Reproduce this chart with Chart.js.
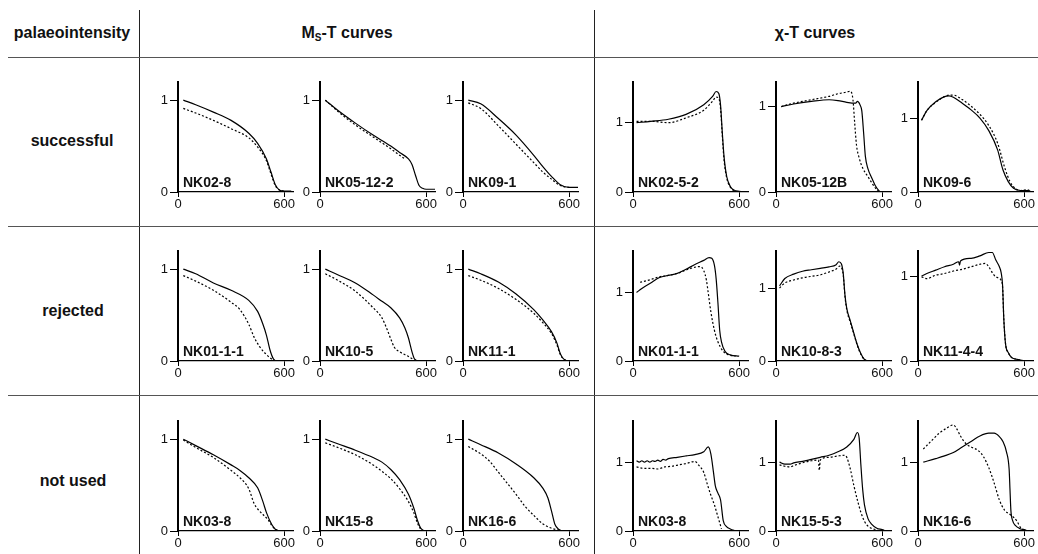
<!DOCTYPE html>
<html>
<head>
<meta charset="utf-8">
<script src="https://cdn.jsdelivr.net/npm/chart.js@4.4.1/dist/chart.umd.min.js"></script>
<style>
  body { margin: 0; background: #fff; }
  #page { position: relative; width: 1038px; height: 554px; overflow: hidden; font-family: "Liberation Sans", Arial, Helvetica, sans-serif; color: #111; }
  .hl { position: absolute; height: 1px; background: #555; }
  .vl { position: absolute; width: 1px; background: #222; }
  .head { position: absolute; font-weight: bold; font-size: 16px; white-space: nowrap; transform: translate(-50%, -50%); }
  .head sub { font-size: 10px; vertical-align: -3px; }
  .lab { position: absolute; font-weight: bold; font-size: 14px; line-height: 14px; white-space: nowrap; }
  canvas { position: absolute; }
</style>
</head>
<body>
<div id="page">
  <div class="vl" style="left:139px;top:10px;height:544px"></div>
  <div class="vl" style="left:594px;top:10px;height:544px"></div>
  <div class="hl" style="left:8px;top:57px;width:1030px"></div>
  <div class="hl" style="left:8px;top:226px;width:1030px"></div>
  <div class="hl" style="left:8px;top:395px;width:1030px"></div>
  <div class="head" style="left:72px;top:33px">palaeointensity</div>
  <div class="head" style="left:347px;top:33px">M<sub>S</sub>-T curves</div>
  <div class="head" style="left:815px;top:33px">χ-T curves</div>
  <div class="head" style="left:72px;top:141px">successful</div>
  <div class="head" style="left:73px;top:311px">rejected</div>
  <div class="head" style="left:73px;top:481px">not used</div>
</div>
<script>
// tick labels
const xTicks = [0, 600];
const yTicks = [0, 1];

// sample names per row (successful / rejected / not used)
const msNames = [['NK02-8', 'NK05-12-2', 'NK09-1'], ['NK01-1-1', 'NK10-5', 'NK11-1'], ['NK03-8', 'NK15-8', 'NK16-6']];
const chiNames = [['NK02-5-2', 'NK05-12B', 'NK09-6'], ['NK01-1-1', 'NK10-8-3', 'NK11-4-4'], ['NK03-8', 'NK15-5-3', 'NK16-6']];
const msYMax = [[1.2, 1.2, 1.2], [1.2, 1.2, 1.2], [1.2, 1.2, 1.2]];
const chiYMax = [[1.59, 1.29, 1.49], [1.61, 1.51, 1.31], [1.6, 1.6, 1.6]];

// ---- Ms-T curves (solid = heating, dotted = cooling) ----
const ms02_8_tS = [30, 100, 200, 300, 400, 450, 500, 525, 550, 575, 600, 640];
const ms02_8_s  = [1.0, 0.95, 0.87, 0.78, 0.64, 0.53, 0.36, 0.22, 0.08, 0.02, 0.01, 0.01];
const ms02_8_tD = [30, 100, 200, 300, 400, 450, 500, 525, 550, 575, 600];
const ms02_8_d  = [0.91, 0.86, 0.78, 0.69, 0.59, 0.49, 0.34, 0.20, 0.07, 0.02, 0.01];

const ms05_12_2_tS = [30, 100, 200, 300, 400, 450, 500, 520, 540, 560, 580, 600, 650];
const ms05_12_2_s  = [1.0, 0.89, 0.75, 0.62, 0.50, 0.43, 0.36, 0.30, 0.18, 0.07, 0.04, 0.03, 0.03];
const ms05_12_2_tD = [30, 100, 200, 300, 400, 450, 480];
const ms05_12_2_d  = [1.0, 0.88, 0.73, 0.60, 0.47, 0.40, 0.36];

const ms09_1_tS = [30, 100, 200, 300, 400, 450, 500, 550, 600, 650];
const ms09_1_s  = [1.0, 0.96, 0.80, 0.62, 0.40, 0.28, 0.17, 0.08, 0.05, 0.05];
const ms09_1_tD = [30, 100, 200, 300, 400, 450, 500, 550, 600];
const ms09_1_d  = [0.97, 0.91, 0.72, 0.52, 0.32, 0.22, 0.14, 0.07, 0.05];

const ms01_1_1_tS = [30, 100, 200, 300, 400, 450, 480, 500, 520, 540, 560, 650];
const ms01_1_1_s  = [1.0, 0.95, 0.85, 0.77, 0.66, 0.54, 0.40, 0.28, 0.12, 0.02, 0.0, 0.0];
const ms01_1_1_tD = [30, 100, 200, 300, 350, 400, 430, 460, 500, 530, 550];
const ms01_1_1_d  = [0.93, 0.87, 0.77, 0.64, 0.56, 0.40, 0.26, 0.16, 0.07, 0.02, 0.0];

const ms10_5_tS = [30, 100, 200, 300, 350, 400, 450, 480, 500, 520, 535, 560, 650];
const ms10_5_s  = [1.0, 0.94, 0.85, 0.72, 0.65, 0.58, 0.47, 0.36, 0.25, 0.10, 0.02, 0.0, 0.0];
const ms10_5_tD = [30, 100, 200, 300, 350, 380, 400, 420, 450, 500, 540];
const ms10_5_d  = [0.95, 0.88, 0.76, 0.58, 0.47, 0.34, 0.24, 0.15, 0.10, 0.05, 0.0];

const ms11_1_tS = [30, 100, 200, 300, 400, 450, 500, 530, 550, 570, 600, 650];
const ms11_1_s  = [1.0, 0.95, 0.86, 0.73, 0.56, 0.45, 0.32, 0.20, 0.08, 0.02, 0.0, 0.0];
const ms11_1_tD = [30, 100, 200, 300, 400, 450, 500, 530, 550, 570, 600];
const ms11_1_d  = [0.93, 0.88, 0.79, 0.67, 0.52, 0.42, 0.30, 0.18, 0.07, 0.02, 0.0];

const ms03_8_tS = [30, 100, 200, 300, 350, 400, 450, 480, 500, 530, 550, 580, 650];
const ms03_8_s  = [1.0, 0.93, 0.83, 0.72, 0.66, 0.58, 0.47, 0.32, 0.20, 0.07, 0.02, 0.0, 0.0];
const ms03_8_tD = [30, 100, 200, 300, 350, 400, 430, 450, 480, 510, 530, 550, 580];
const ms03_8_d  = [0.99, 0.91, 0.80, 0.66, 0.58, 0.46, 0.30, 0.24, 0.18, 0.12, 0.06, 0.02, 0.0];

const ms15_8_tS = [30, 100, 200, 300, 350, 400, 450, 500, 530, 550, 570, 600, 650];
const ms15_8_s  = [1.0, 0.95, 0.88, 0.80, 0.75, 0.67, 0.56, 0.40, 0.25, 0.12, 0.03, 0.0, 0.0];
const ms15_8_tD = [30, 100, 200, 300, 350, 400, 450, 500, 530, 550, 570, 600];
const ms15_8_d  = [0.96, 0.91, 0.83, 0.72, 0.65, 0.57, 0.46, 0.32, 0.20, 0.09, 0.02, 0.0];

const ms16_6_tS = [30, 100, 200, 300, 400, 450, 480, 500, 520, 540, 570, 650];
const ms16_6_s  = [1.0, 0.94, 0.85, 0.73, 0.58, 0.47, 0.36, 0.22, 0.07, 0.02, 0.0, 0.0];
const ms16_6_tD = [30, 100, 150, 200, 250, 300, 350, 400, 450, 500, 540, 570];
const ms16_6_d  = [0.92, 0.84, 0.76, 0.64, 0.52, 0.40, 0.27, 0.17, 0.08, 0.03, 0.01, 0.0];

// ---- chi-T curves (solid = heating, dotted = cooling) ----
const chi02_5_2_tS = [20, 100, 200, 300, 400, 450, 470, 485, 495, 505, 515, 530, 550, 570, 600, 640];
const chi02_5_2_s  = [1.0, 1.02, 1.05, 1.12, 1.26, 1.38, 1.45, 1.42, 1.25, 0.85, 0.50, 0.22, 0.08, 0.03, 0.01, 0.0];
const chi02_5_2_tD = [20, 100, 200, 300, 400, 450, 470, 485, 495, 505, 515, 530, 550, 570, 600];
const chi02_5_2_d  = [1.02, 1.02, 1.0, 1.07, 1.18, 1.31, 1.37, 1.35, 1.20, 0.80, 0.45, 0.20, 0.07, 0.02, 0.0];

const chi05_12B_tS = [30, 100, 200, 300, 350, 400, 450, 460, 475, 485, 495, 505, 520, 540, 560, 580, 590];
const chi05_12B_s  = [1.0, 1.03, 1.06, 1.08, 1.07, 1.05, 1.04, 1.06, 1.02, 0.95, 0.70, 0.42, 0.27, 0.17, 0.08, 0.02, 0.0];
const chi05_12B_tD = [30, 100, 200, 300, 350, 400, 420, 435, 445, 455, 470, 490, 520, 550, 580];
const chi05_12B_d  = [1.0, 1.04, 1.08, 1.12, 1.15, 1.17, 1.18, 1.08, 0.80, 0.55, 0.40, 0.28, 0.18, 0.08, 0.0];

const chi09_6_tS = [20, 50, 100, 150, 175, 200, 250, 300, 350, 400, 450, 480, 510, 540, 580, 620, 640];
const chi09_6_s  = [0.97, 1.10, 1.22, 1.29, 1.30, 1.28, 1.20, 1.11, 1.0, 0.83, 0.57, 0.30, 0.14, 0.05, 0.02, 0.02, 0.0];
const chi09_6_tD = [20, 50, 100, 150, 175, 200, 250, 300, 350, 400, 450, 490, 520, 550, 580, 620, 640];
const chi09_6_d  = [0.97, 1.10, 1.21, 1.29, 1.31, 1.31, 1.25, 1.16, 1.05, 0.90, 0.66, 0.33, 0.14, 0.05, 0.02, 0.03, 0.0];

const chi01_1_1_tS = [20, 50, 100, 150, 200, 250, 300, 350, 400, 430, 445, 460, 470, 480, 490, 500, 520, 550, 600];
const chi01_1_1_s  = [1.0, 1.06, 1.14, 1.22, 1.25, 1.28, 1.34, 1.41, 1.47, 1.51, 1.50, 1.40, 1.20, 0.85, 0.45, 0.28, 0.14, 0.09, 0.07];
const chi01_1_1_tD = [40, 100, 150, 200, 250, 300, 350, 380, 400, 415, 425, 440, 460, 480, 510, 540, 580];
const chi01_1_1_d  = [1.15, 1.19, 1.23, 1.25, 1.28, 1.33, 1.37, 1.38, 1.32, 1.18, 1.0, 0.72, 0.45, 0.28, 0.14, 0.09, 0.07];

const chi10_8_3_tS = [20, 50, 100, 150, 200, 250, 300, 340, 355, 370, 380, 390, 400, 420, 440, 460, 480, 500, 520, 600];
const chi10_8_3_s  = [1.03, 1.13, 1.19, 1.23, 1.25, 1.27, 1.29, 1.32, 1.36, 1.33, 1.20, 0.90, 0.72, 0.55, 0.38, 0.22, 0.10, 0.02, 0.0, 0.0];
const chi10_8_3_tD = [20, 50, 100, 150, 200, 250, 300, 340, 360, 370, 380, 390, 400, 420, 440, 460, 480, 500, 520];
const chi10_8_3_d  = [1.0, 1.07, 1.11, 1.14, 1.16, 1.18, 1.22, 1.26, 1.30, 1.28, 1.18, 0.88, 0.70, 0.53, 0.37, 0.21, 0.09, 0.02, 0.0];

const chi11_4_4_tS = [20, 50, 100, 150, 200, 230, 235, 240, 300, 350, 400, 420, 440, 460, 470, 478, 485, 495, 510, 530, 560, 600];
const chi11_4_4_s  = [1.01, 1.04, 1.08, 1.12, 1.15, 1.18, 1.14, 1.19, 1.22, 1.25, 1.29, 1.29, 1.20, 1.12, 1.05, 0.90, 0.50, 0.20, 0.10, 0.04, 0.02, 0.0];
const chi11_4_4_tD = [20, 50, 100, 150, 200, 250, 300, 350, 380, 400, 420, 440, 470, 478, 485, 495, 510, 530, 560, 600];
const chi11_4_4_d  = [1.0, 0.98, 1.02, 1.04, 1.07, 1.09, 1.12, 1.15, 1.16, 1.12, 1.05, 1.0, 0.96, 0.88, 0.50, 0.20, 0.10, 0.04, 0.02, 0.0];

const chi03_8_tS = [20, 35, 50, 65, 80, 95, 110, 125, 140, 155, 170, 185, 200, 250, 300, 350, 400, 425, 440, 455, 465, 480, 495, 510, 530, 550, 580];
const chi03_8_s  = [1.02, 1.0, 1.02, 1.0, 1.02, 1.0, 1.02, 1.01, 1.03, 1.01, 1.04, 1.03, 1.05, 1.07, 1.09, 1.11, 1.15, 1.22, 1.12, 0.85, 0.66, 0.55, 0.45, 0.15, 0.06, 0.03, 0.0];
const chi03_8_tD = [20, 60, 100, 140, 180, 220, 260, 300, 350, 370, 400, 420, 440, 460, 475, 490, 500];
const chi03_8_d  = [0.93, 0.91, 0.91, 0.90, 0.93, 0.94, 0.96, 0.98, 1.01, 0.96, 0.85, 0.68, 0.52, 0.38, 0.25, 0.12, 0.03];

const chi15_5_3_tS = [20, 50, 80, 100, 150, 200, 250, 300, 350, 400, 440, 460, 470, 480, 490, 500, 520, 540, 570, 600, 620];
const chi15_5_3_s  = [1.0, 0.97, 0.97, 0.99, 1.01, 1.04, 1.07, 1.10, 1.15, 1.22, 1.33, 1.43, 1.35, 0.95, 0.60, 0.38, 0.18, 0.10, 0.04, 0.02, 0.0];
const chi15_5_3_tD = [20, 50, 80, 100, 150, 200, 240, 245, 250, 300, 350, 390, 400, 420, 440, 460, 480, 500, 520, 550, 580, 600];
const chi15_5_3_d  = [0.96, 0.94, 0.93, 0.95, 0.99, 1.02, 1.03, 0.88, 1.03, 1.07, 1.09, 1.10, 1.07, 0.90, 0.66, 0.45, 0.27, 0.14, 0.07, 0.03, 0.01, 0.0];

const chi16_6_tS = [30, 100, 150, 200, 250, 300, 350, 400, 430, 460, 480, 500, 515, 520, 525, 535, 550, 580, 600, 620];
const chi16_6_s  = [1.0, 1.05, 1.09, 1.14, 1.22, 1.30, 1.38, 1.42, 1.42, 1.37, 1.30, 1.15, 0.90, 0.60, 0.30, 0.15, 0.08, 0.03, 0.02, 0.0];
const chi16_6_tD = [30, 80, 120, 160, 200, 215, 240, 270, 300, 340, 370, 400, 430, 460, 490, 520, 540, 560, 580, 600, 620];
const chi16_6_d  = [1.19, 1.32, 1.42, 1.49, 1.54, 1.50, 1.38, 1.27, 1.22, 1.17, 1.08, 0.92, 0.70, 0.45, 0.30, 0.24, 0.20, 0.14, 0.05, 0.02, 0.0];

const msSeries = {
  'NK02-8': [ms02_8_tS, ms02_8_s, ms02_8_tD, ms02_8_d],
  'NK05-12-2': [ms05_12_2_tS, ms05_12_2_s, ms05_12_2_tD, ms05_12_2_d],
  'NK09-1': [ms09_1_tS, ms09_1_s, ms09_1_tD, ms09_1_d],
  'NK01-1-1': [ms01_1_1_tS, ms01_1_1_s, ms01_1_1_tD, ms01_1_1_d],
  'NK10-5': [ms10_5_tS, ms10_5_s, ms10_5_tD, ms10_5_d],
  'NK11-1': [ms11_1_tS, ms11_1_s, ms11_1_tD, ms11_1_d],
  'NK03-8': [ms03_8_tS, ms03_8_s, ms03_8_tD, ms03_8_d],
  'NK15-8': [ms15_8_tS, ms15_8_s, ms15_8_tD, ms15_8_d],
  'NK16-6': [ms16_6_tS, ms16_6_s, ms16_6_tD, ms16_6_d]
};
const chiSeries = {
  'NK02-5-2': [chi02_5_2_tS, chi02_5_2_s, chi02_5_2_tD, chi02_5_2_d],
  'NK05-12B': [chi05_12B_tS, chi05_12B_s, chi05_12B_tD, chi05_12B_d],
  'NK09-6': [chi09_6_tS, chi09_6_s, chi09_6_tD, chi09_6_d],
  'NK01-1-1': [chi01_1_1_tS, chi01_1_1_s, chi01_1_1_tD, chi01_1_1_d],
  'NK10-8-3': [chi10_8_3_tS, chi10_8_3_s, chi10_8_3_tD, chi10_8_3_d],
  'NK11-4-4': [chi11_4_4_tS, chi11_4_4_s, chi11_4_4_tD, chi11_4_4_d],
  'NK03-8': [chi03_8_tS, chi03_8_s, chi03_8_tD, chi03_8_d],
  'NK15-5-3': [chi15_5_3_tS, chi15_5_3_s, chi15_5_3_tD, chi15_5_3_d],
  'NK16-6': [chi16_6_tS, chi16_6_s, chi16_6_tD, chi16_6_d]
};

// layout (pixels): y-axis x position of each column, x-axis y position of each row
const msX0 = [178, 320, 463];
const chiX0 = [633, 776, 918];
const rowY0 = [192, 361, 531];
const PLOT_W = 115, PLOT_H = 116, Y_AX_W = 28, X_AX_H = 20, PAD_T = 4, PAD_R = 10;
const FONT = '"Liberation Sans", Arial, Helvetica, sans-serif';

const page = document.getElementById('page');

function xy(t, v) {
  return t.map((x, i) => ({ x: x, y: v[i] }));
}

function panel(x0, y0, name, series, yMax) {
  const cv = document.createElement('canvas');
  cv.width = Y_AX_W + PLOT_W + PAD_R;
  cv.height = PAD_T + PLOT_H + X_AX_H;
  cv.style.left = (x0 - Y_AX_W) + 'px';
  cv.style.top = (y0 - PLOT_H - PAD_T) + 'px';
  page.appendChild(cv);

  const lab = document.createElement('div');
  lab.className = 'lab';
  lab.textContent = name;
  lab.style.left = (x0 + 5) + 'px';
  lab.style.top = (y0 - 17) + 'px';
  page.appendChild(lab);

  const [tS, s, tD, d] = series;
  new Chart(cv, {
    type: 'line',
    data: {
      datasets: [
        { data: xy(tS, s), borderColor: '#000', borderWidth: 1.2, pointRadius: 0, fill: false, cubicInterpolationMode: 'monotone' },
        { data: xy(tD, d), borderColor: '#000', borderWidth: 1.2, borderDash: [2, 2], pointRadius: 0, fill: false, cubicInterpolationMode: 'monotone' }
      ]
    },
    options: {
      responsive: false,
      animation: false,
      events: [],
      layout: { padding: { top: PAD_T, right: PAD_R, left: 0, bottom: 0 } },
      plugins: { legend: { display: false }, tooltip: { enabled: false } },
      scales: {
        x: {
          type: 'linear', min: 0, max: 650,
          afterBuildTicks: sc => { sc.ticks = xTicks.map(v => ({ value: v })); },
          afterFit: sc => { sc.height = X_AX_H; },
          grid: { drawOnChartArea: false, drawTicks: true, tickLength: 5, color: '#000', lineWidth: 1 },
          border: { display: true, color: '#000', width: 1.3 },
          ticks: { color: '#111', font: { family: FONT, size: 13 }, padding: 0, maxRotation: 0, autoSkip: false }
        },
        y: {
          type: 'linear', min: 0, max: yMax,
          afterBuildTicks: sc => { sc.ticks = yTicks.map(v => ({ value: v })); },
          afterFit: sc => { sc.width = Y_AX_W; },
          grid: { drawOnChartArea: false, drawTicks: true, tickLength: 8, color: '#000', lineWidth: 1 },
          border: { display: true, color: '#000', width: 2 },
          ticks: { color: '#111', font: { family: FONT, size: 13 }, padding: 2 }
        }
      }
    }
  });
}

for (let r = 0; r < 3; r++) {
  for (let c = 0; c < 3; c++) {
    panel(msX0[c], rowY0[r], msNames[r][c], msSeries[msNames[r][c]], msYMax[r][c]);
    panel(chiX0[c], rowY0[r], chiNames[r][c], chiSeries[chiNames[r][c]], chiYMax[r][c]);
  }
}
</script>
</body>
</html>
